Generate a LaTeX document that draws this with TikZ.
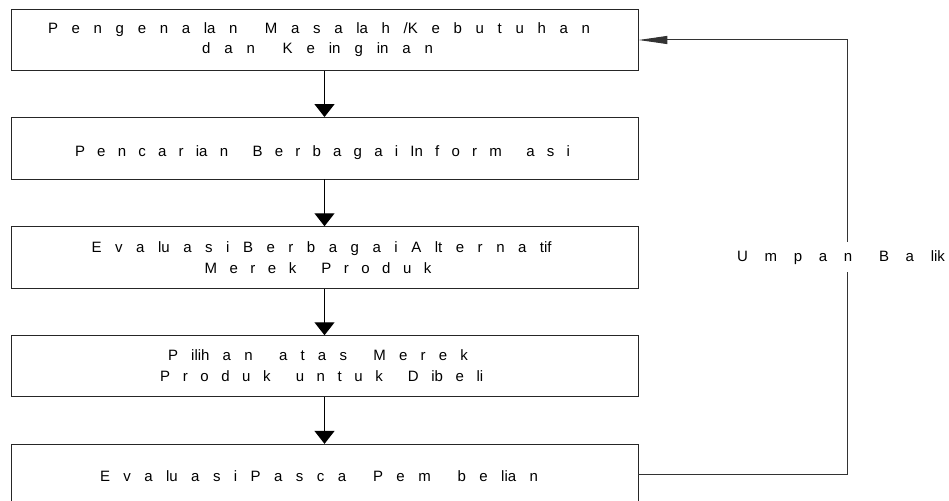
\documentclass[tikz,border=0pt]{standalone}
\usepackage{fontspec}
\setmainfont{Liberation Sans}
\usetikzlibrary{arrows.meta}
\newcommand\spreadline[2]{\hbox to #1{\spaceskip=0pt plus 1fil\relax #2}}
\begin{document}
\begin{tikzpicture}[x=1pt,y=-1pt,
  box/.style={draw=black!85,line width=0.9pt,minimum width=627pt,inner sep=0pt},
  txt/.style={anchor=base,inner sep=0pt,font=\fontsize{15}{17}\selectfont},
  flow/.style={draw=black,line width=1.3pt,-{Triangle[width=20pt,length=13pt]}},
  fb/.style={draw=black!80,line width=1pt,-{Triangle[width=8pt,length=29pt]}}]
\useasboundingbox (0,0) rectangle (949,500);

\node[box,minimum height=61pt] (b1) at (324.5,40) {};
\node[box,minimum height=61.5pt] (b2) at (324.5,148.25) {};
\node[box,minimum height=61.6pt] (b3) at (324.5,257.5) {};
\node[box,minimum height=61pt] (b4) at (324.5,366.2) {};
\node[box,minimum height=61pt] (b5) at (324.5,474.8) {};

\node[txt] (t1a) at (319,33.5) {\spreadline{542pt}{P e n g e n a la n\ \ M a s a la h /K e b u t u h a n}};
\node[txt] (t1b) at (317.5,54) {\spreadline{231pt}{d a n\ \ K e in g in a n}};
\node[txt] (t2) at (322.5,156) {\spreadline{495pt}{P e n c a r ia n\ \ B e r b a g a i In f o r m\ \ a s i}};
\node[txt] (t3a) at (321.7,252) {\spreadline{460pt}{E v a lu a s i B e r b a g a i A lt e r n a tif}};
\node[txt] (t3b) at (318,273) {\spreadline{227pt}{M e r e k\ \ P r o d u k}};
\node[txt] (t4a) at (318,360) {\spreadline{300pt}{P ilih a n\ \ a t a s\ \ M e r e k}};
\node[txt] (t4b) at (321.7,381.5) {\spreadline{323pt}{P r o d u k\ \ u n t u k\ \ D ib e li}};
\node[txt] (t5) at (319,481) {\spreadline{438pt}{E v a lu a s i P a s c a\ \ P e m\ \ b e lia n}};

\draw[flow] (b1.south) -- (b2.north);
\draw[flow] (b2.south) -- (b3.north);
\draw[flow] (b3.south) -- (b4.north);
\draw[flow] (b4.south) -- (b5.north);

\coordinate (c1) at (847,474.8);
\coordinate (c2) at (847,40);
\draw[fb] (b5.east) -- (c1) -- (c2) -- (b1.east);
\node[txt,fill=white,text height=20pt,text depth=10.5pt] (lbl) at (841,261.5) {\spreadline{208pt}{U m p a n\ \hspace{10pt}B a lik}};
\end{tikzpicture}
\end{document}
